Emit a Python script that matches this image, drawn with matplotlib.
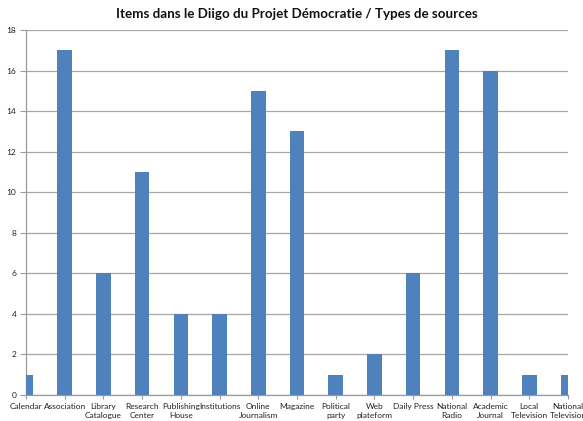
import matplotlib
matplotlib.use("Agg")
import matplotlib.pyplot as plt

categories = ["Calendar", "Association", "Library\nCatalogue", "Research\nCenter",
              "Publishing\nHouse", "Institutions", "Online\nJournalism", "Magazine",
              "Political\nparty", "Web\nplateform", "Daily Press", "National\nRadio",
              "Academic\nJournal", "Local\nTelevision", "National\nTelevision"]
counts = [1, 17, 6, 11, 4, 4, 15, 13, 1, 2, 6, 17, 16, 1, 1]
y_ticks = list(range(0, 19, 2))

plt.rcParams['font.family'] = ['Lato', 'DejaVu Sans']

fig = plt.figure(figsize=(5.83, 4.21), dpi=100)
ax = fig.add_axes([26 / 583, 26 / 421, 542 / 583, 365 / 421])

x = list(range(len(categories)))
ax.bar(x, counts, width=0.38, color='#4F81BD', zorder=3)

ax.set_xlim(0, len(categories) - 1)
ax.set_ylim(0, 18)
ax.set_yticks(y_ticks)
ax.set_xticks(x)
ax.set_xticklabels(categories, fontsize=6, color='#222222', linespacing=1.45)
ax.tick_params(axis='y', labelsize=6, labelcolor='#222222', length=4,
               color='#9a9a9a', pad=3)
ax.tick_params(axis='x', length=3, color='#9a9a9a', pad=2.5)
ax.grid(axis='y', color='#a6a6a6', linewidth=0.9, zorder=0)

for side in ['top', 'right']:
    ax.spines[side].set_visible(False)
for side in ['left', 'bottom']:
    ax.spines[side].set_color('#9a9a9a')
    ax.spines[side].set_linewidth(0.9)

fig.text(297 / 583, 1 - 14 / 421, "Items dans le Diigo du Projet Démocratie / Types de sources",
         ha='center', va='center', fontsize=9.6, fontweight='bold', color='#111111')

fig.savefig("out.png", dpi=100)
